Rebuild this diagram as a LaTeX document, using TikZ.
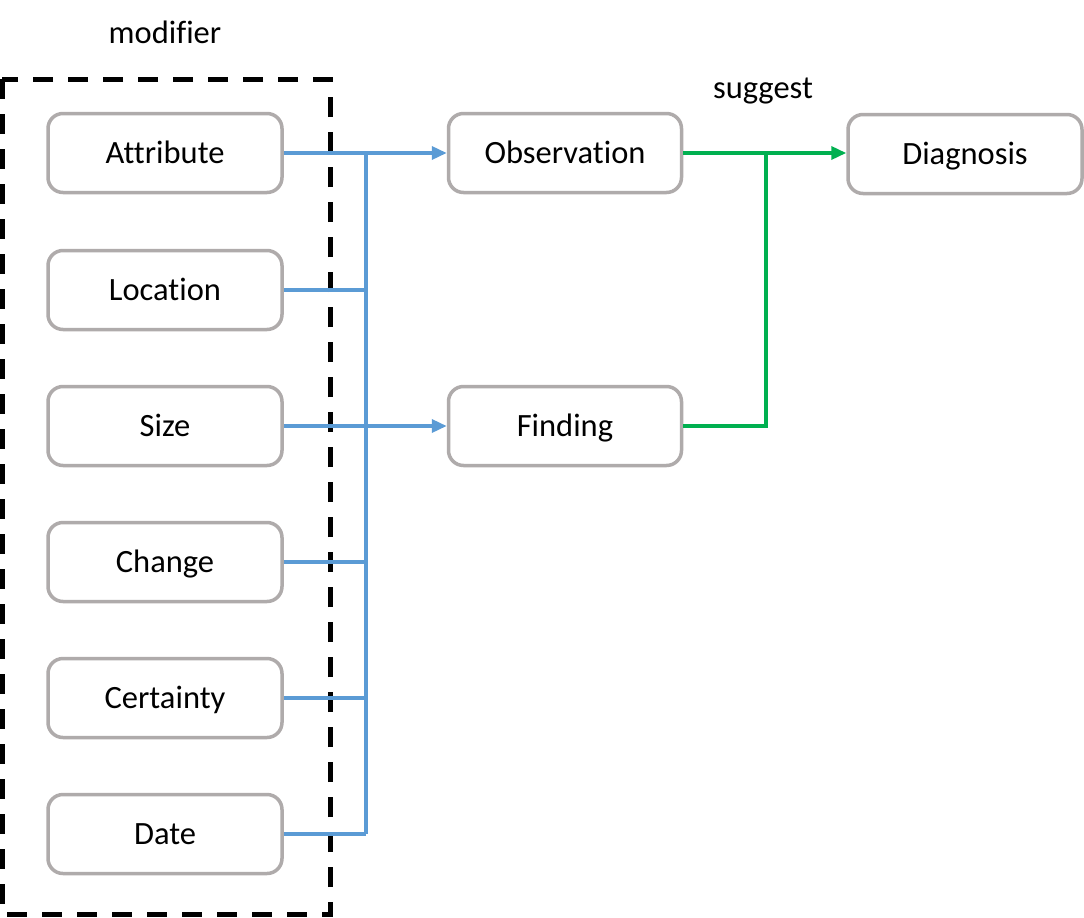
\documentclass[tikz,border=0pt]{standalone}
\usepackage{fontspec}
\setmainfont[Ligatures={NoCommon}]{Carlito}
\usetikzlibrary{arrows.meta}
\definecolor{boxgray}{HTML}{AFABAB}
\definecolor{linkblue}{HTML}{5B9BD5}
\definecolor{linkgreen}{HTML}{00B050}
\begin{document}
\begin{tikzpicture}[x=1pt,y=-1pt,
  ent/.style={draw=boxgray, line width=3.5pt, rounded corners=15pt, fill=white,
    minimum width=234pt, minimum height=79pt, inner sep=0pt,
    text height=24pt, text depth=4pt,
    font=\fontsize{32.5}{38}\selectfont},
  lbl/.style={font=\fontsize{32.5}{38}\selectfont, inner sep=0pt,
    text height=24pt, text depth=4pt},
  blue/.style={draw=linkblue, line width=3.5pt},
  green/.style={draw=linkgreen, line width=3.5pt},
  tip/.style={-{Triangle[length=15pt,width=13pt]}}]
\useasboundingbox (0,0) rectangle (1084,918);
\draw[black, line width=5pt, dash pattern=on 20pt off 15pt] (2,79) rectangle (330,914);
\node[lbl] (mod) at (165,33) {modifier};
\node[lbl] (sug) at (763,88) {suggest};
\node[ent] (attr) at (165,153) {Attribute};
\node[ent] (loc) at (165,290) {Location};
\node[ent] (size) at (165,426) {Size};
\node[ent] (chg) at (165,562) {Change};
\node[ent] (cert) at (165,698) {Certainty};
\node[ent] (date) at (165,834) {Date};
\node[ent, minimum width=233pt] (obs) at (565,153) {Observation};
\node[ent, minimum width=233pt] (find) at (565,426) {Finding};
\node[ent] (diag) at (965,154) {Diagnosis};
\coordinate (tt) at (366,153);
\coordinate (tb) at (366,834);
\coordinate (gj) at (766,153);
\draw[blue] (tt) -- (tb);
\draw[blue] (loc.east) -- (366,290);
\draw[blue] (chg.east) -- (366,562);
\draw[blue] (cert.east) -- (366,698);
\draw[blue] (date.east) -| (tb);
\draw[blue, tip] (attr.east) -- (obs.west);
\draw[blue, tip] (size.east) -- (find.west);
\draw[green, tip] (obs.east) -- (diag.west |- obs.east);
\draw[green] (find.east) -| (gj);
\end{tikzpicture}
\end{document}
